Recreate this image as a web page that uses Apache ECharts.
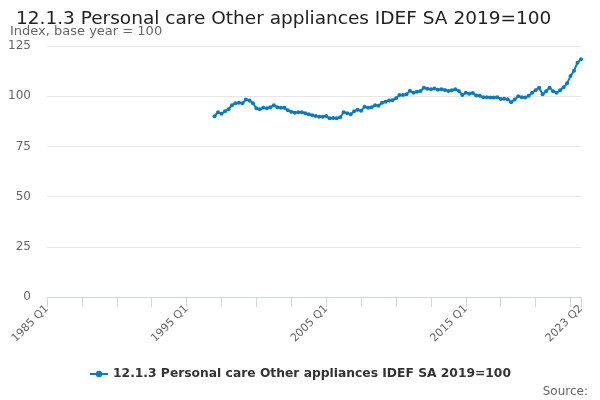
<!DOCTYPE html>
<html>
<head>
<meta charset="utf-8">
<script src="https://cdn.jsdelivr.net/npm/echarts@6/dist/echarts.min.js"></script>
<style>
    html, body { margin: 0; padding: 0; background: #fff; }
    #myEchart { width: 600px; height: 400px; }
</style>
</head>
<body>
<div id="myEchart"></div>
<script>
// quarterly labels, 1985 Q1 .. 2023 Q2
var firstYear = 1985;
var lastYear = 2023;
var lastQuarter = 2;
var categories = [];
for (var y = firstYear; y <= lastYear; y++) {
    for (var q = 1; q <= 4; q++) {
        if (y === lastYear && q > lastQuarter) break;
        categories.push(y + ' Q' + q);
    }
}

// series starts at 1997 Q1
var seriesStart = '1997 Q1';
var seriesValues = [
    90, 92, 91.2, 92.5, 93.5, 95.5, 96.5, 96.8, 96.5, 98.3, 97.8, 96.5,
    94, 93.5, 94.3, 94, 94.5, 95.5, 94.5, 94.3, 94.2, 93, 92.2, 91.8,
    92, 92, 91.5, 91, 90.5, 90.1, 89.8, 89.8, 90.1, 89, 89.2, 89,
    89.5, 92, 91.5, 91, 92.5, 93.2, 92.8, 94.8, 94.2, 94.5, 95.5, 95.3,
    96.8, 97.2, 97.8, 98, 99, 100.6, 100.6, 101, 102.7, 101.7, 102.2, 102.6,
    104.2, 103.7, 103.4, 103.8, 103.2, 103.5, 103.1, 102.6, 103, 103.4, 102.6, 100.6,
    101.7, 101.2, 101.6, 100.3, 100.2, 99.5, 99.5, 99.3, 99.4, 99.5, 98.6, 98.7,
    98.5, 97, 98.3, 100, 99.5, 99.3, 100.2, 101.7, 103, 104.2, 101, 102.5,
    104.2, 102.5, 101.7, 103, 104.4, 106.4, 110, 112.7, 116.7, 118.4
];
var yTicks = [0, 25, 50, 75, 100, 125];

var seriesName = '12.1.3 Personal care Other appliances IDEF SA 2019=100';

var chartData = [];
var startIdx = categories.indexOf(seriesStart);
for (var i = 0; i < categories.length; i++) {
    var v = seriesValues[i - startIdx];
    chartData.push(i >= startIdx && v !== undefined ? v : null);
}
var lastIdx = categories.length - 1;

var chartPaper = echarts.init(document.getElementById('myEchart'));
var option = {
    animation: false,
    textStyle: { fontFamily: 'DejaVu Sans' },
    title: [
        {
            text: seriesName,
            left: 11,
            top: 5,
            textStyle: { fontSize: 18.5, fontWeight: 'normal', color: '#222' }
        },
        {
            text: 'Index, base year = 100',
            left: 5,
            top: 20,
            textStyle: { fontSize: 13, fontWeight: 'normal', color: '#666' }
        },
        {
            text: 'Source:',
            right: 7,
            top: 381,
            textStyle: { fontSize: 12, fontWeight: 'normal', color: '#666' }
        }
    ],
    legend: {
        top: 363,
        left: 'center',
        itemWidth: 18,
        itemHeight: 8,
        data: [seriesName],
        textStyle: { fontSize: 12.3, fontWeight: 'bold', color: '#333' }
    },
    grid: {
        left: 47,
        right: 19,
        top: 46,
        bottom: 103,
        containLabel: false
    },
    xAxis: {
        type: 'category',
        boundaryGap: false,
        data: categories,
        axisLine: { lineStyle: { color: '#ccd6eb' } },
        axisTick: {
            length: 10,
            lineStyle: { color: '#ccd6eb' },
            interval: function (index) { return index % 10 === 0 || index === lastIdx; }
        },
        axisLabel: {
            rotate: 45,
            color: '#666',
            fontSize: 11,
            margin: 10,
            interval: function (index) { return index % 40 === 0 || index === lastIdx; }
        },
        splitLine: { show: false }
    },
    yAxis: {
        type: 'value',
        min: yTicks[0],
        max: yTicks[yTicks.length - 1],
        interval: 25,
        axisLine: { show: false },
        axisTick: { show: false },
        axisLabel: { color: '#666', fontSize: 12, margin: 16 },
        splitLine: { lineStyle: { color: '#e6e6e6' } }
    },
    series: [
        {
            name: seriesName,
            type: 'line',
            data: chartData,
            connectNulls: false,
            color: '#0a7bc1',
            lineStyle: { width: 2 },
            symbol: 'circle',
            symbolSize: 4,
            showSymbol: true,
            showAllSymbol: true
        }
    ]
};
chartPaper.setOption(option);
</script>
</body>
</html>
